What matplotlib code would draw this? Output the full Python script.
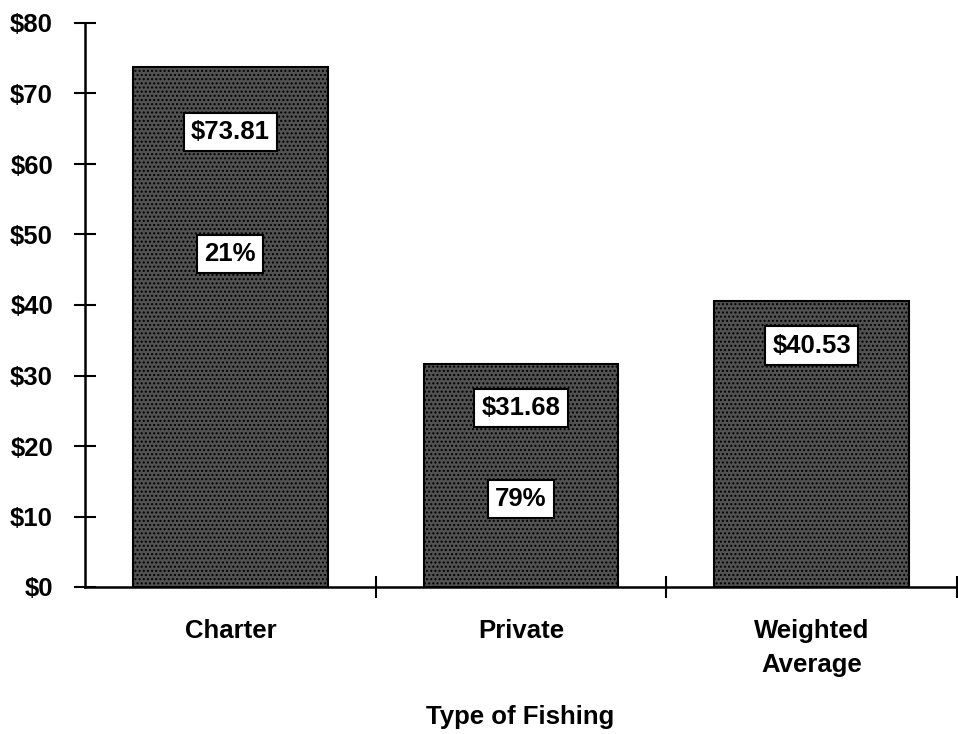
import matplotlib
matplotlib.use("Agg")
import matplotlib.pyplot as plt

# Average expenditure per trip by type of fishing
categories = ["Charter", "Private", "Weighted\nAverage"]
values = [73.81, 31.68, 40.53]
value_labels = ["$73.81", "$31.68", "$40.53"]
share_labels = ["21%", "79%", None]
y_ticks = [0, 10, 20, 30, 40, 50, 60, 70, 80]
y_tick_labels = ["$0", "$10", "$20", "$30", "$40", "$50", "$60", "$70", "$80"]

plt.rcParams["font.family"] = ["Liberation Sans", "DejaVu Sans"]
plt.rcParams["font.weight"] = "bold"
FS = 18.5

fig = plt.figure(figsize=(9.58, 7.34), dpi=100)
ax = fig.add_axes([85 / 958, 147 / 734, 872 / 958, 564 / 734])

x = list(range(len(categories)))
ax.bar(x, values, width=0.67, color="#525252", edgecolor="black",
       linewidth=1.5, hatch="....", zorder=2)

box = dict(boxstyle="square,pad=0.28", facecolor="white", edgecolor="black", linewidth=1.5)
for i, v in enumerate(values):
    offset = 9.3 if i == 0 else 6.3
    ax.text(i, v - offset, value_labels[i], ha="center", va="center",
            fontsize=FS, fontweight="bold", bbox=box, zorder=3)
    if share_labels[i]:
        ax.text(i, v - offset - (17.3 if i == 0 else 12.9), share_labels[i],
                ha="center", va="center", fontsize=FS, fontweight="bold",
                bbox=box, zorder=3)

ax.set_xlim(-0.5, 2.5)
ax.set_ylim(0, 80)
ax.set_yticks(y_ticks)
ax.set_yticklabels(y_tick_labels, fontsize=FS, fontweight="bold")
ax.set_xticks([0.5, 1.5, 2.5])
ax.set_xticklabels([])
ax.set_xticks(x, minor=True)
ax.set_xticklabels(categories, minor=True, fontsize=FS, fontweight="bold",
                   linespacing=1.55)
ax.tick_params(axis="x", which="minor", length=0, pad=23)
ax.tick_params(axis="both", which="major", direction="inout", length=16,
               width=1.5, color="black")
ax.tick_params(axis="y", pad=15)

for side in ("top", "right"):
    ax.spines[side].set_visible(False)
for side in ("left", "bottom"):
    ax.spines[side].set_linewidth(1.8)

ax.set_xlabel("Type of Fishing", fontsize=FS, fontweight="bold", va="center")
ax.xaxis.set_label_coords(435 / 872, -(717 - 587) / 564)

fig.savefig("out.png", dpi=100)
